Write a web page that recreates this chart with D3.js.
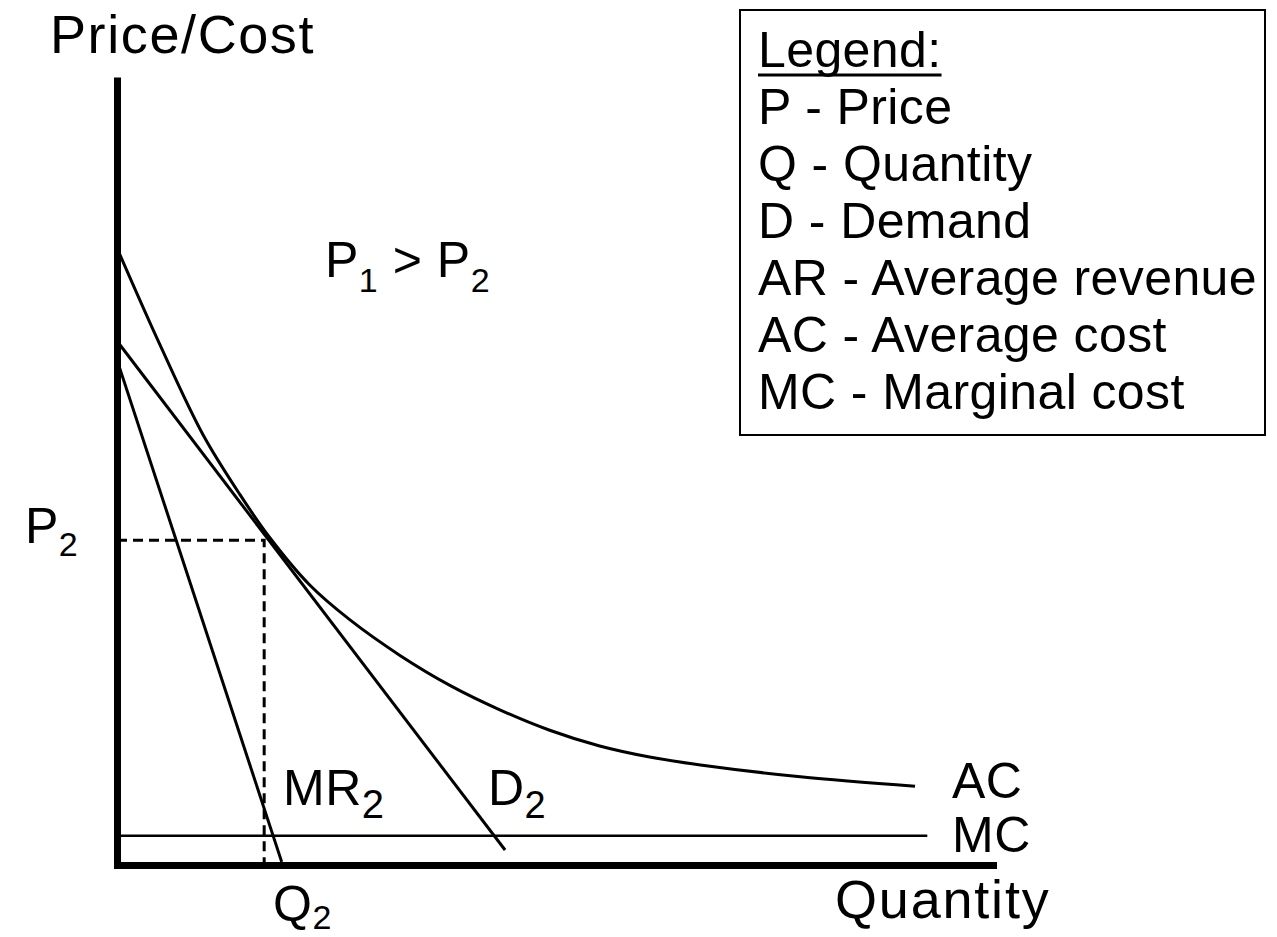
<!DOCTYPE html>
<html>
<head>
<meta charset="utf-8">
<script src="https://cdn.jsdelivr.net/npm/d3@7"></script>
<style>
  body { margin: 0; background: #fff; }
  text { font-family: "Liberation Sans", Arial, sans-serif; fill: #000; }
</style>
</head>
<body>
<svg id="chart" width="1277" height="937"></svg>
<script>
// curve data in chart units (0..100 on both axes)
const acX = [0, 4.91, 9.82, 14.04, 17.47, 22.03, 26.6, 32.3, 38.0, 43.7, 49.4, 55.1, 60.8, 66.6, 78.0, 91.1];
const acY = [78.3, 66.0, 54.6, 47.0, 41.5, 35.5, 31.1, 26.6, 22.8, 19.7, 17.1, 15.1, 13.7, 12.7, 11.2, 10.0];
const demandX = [0, 44.3];
const demandY = [66.5, 1.9];
const mrX = [0, 18.8];
const mrY = [64.1, 0.4];
const mcX = [0, 92.5];
const mcY = [3.7, 3.7];
const p2 = 41.2;
const q2 = 16.8;
const legendItems = ['P - Price', 'Q - Quantity', 'D - Demand', 'AR - Average revenue', 'AC - Average cost', 'MC - Marginal cost'];

const svg = d3.select('#chart');

const x = d3.scaleLinear().domain([0, 100]).range([117, 993]);
const y = d3.scaleLinear().domain([0, 100]).range([865, 77]);

const line = d3.line()
  .x(function(d) { return x(d[0]); })
  .y(function(d) { return y(d[1]); });

function pts(xs, ys) {
  return xs.map(function(v, i) { return [v, ys[i]]; });
}

// dashed P2 / Q2 guides
svg.append('path')
  .attr('d', line([[0, p2], [q2, p2], [q2, 0]]))
  .attr('fill', 'none')
  .attr('stroke', '#000')
  .attr('stroke-width', 3)
  .attr('stroke-dasharray', '10,6');

// MC
svg.append('path')
  .attr('d', line(pts(mcX, mcY)))
  .attr('fill', 'none')
  .attr('stroke', '#000')
  .attr('stroke-width', 2.5);

// D2 and MR2
[pts(demandX, demandY), pts(mrX, mrY)].forEach(function(p) {
  svg.append('path')
    .attr('d', line(p))
    .attr('fill', 'none')
    .attr('stroke', '#000')
    .attr('stroke-width', 3);
});

// AC
svg.append('path')
  .attr('d', d3.line()
    .x(function(d) { return x(d[0]); })
    .y(function(d) { return y(d[1]); })
    .curve(d3.curveCatmullRom)(pts(acX, acY)))
  .attr('fill', 'none')
  .attr('stroke', '#000')
  .attr('stroke-width', 3);

// axes, no ticks
const yAxis = svg.append('g')
  .attr('transform', 'translate(117,0)')
  .call(d3.axisLeft(y).tickValues([]).tickSizeOuter(0));
const xAxis = svg.append('g')
  .attr('transform', 'translate(0,865)')
  .call(d3.axisBottom(x).tickValues([]).tickSizeOuter(0));
yAxis.select('.domain').attr('stroke-width', 7);
xAxis.select('.domain').attr('stroke-width', 7).attr('stroke-linecap', 'square');

// labels with optional subscript
function label(px, py, main, sub, subSize, subDy) {
  const t = svg.append('text')
    .attr('x', px)
    .attr('y', py)
    .attr('font-size', 50)
    .attr('letter-spacing', 0.5);
  t.append('tspan').text(main);
  if (sub) {
    t.append('tspan').attr('dy', subDy || 14).attr('font-size', subSize || 34).text(sub);
  }
  return t;
}

svg.append('text').attr('x', 50).attr('y', 53).attr('font-size', 54)
  .attr('letter-spacing', 1.6).text('Price/Cost');
svg.append('text').attr('x', 835).attr('y', 918).attr('font-size', 54)
  .attr('letter-spacing', 1.8).text('Quantity');
label(25, 543, 'P', '2', 34, 13);
label(283, 805, 'MR', '2', 40, 13);
label(488, 805, 'D', '2', 38, 13);
label(273, 921, 'Q', '2', 34, 8);
label(952, 798, 'AC');
label(952, 852, 'MC');

const ineq = svg.append('text').attr('x', 325).attr('y', 277).attr('font-size', 50).attr('letter-spacing', 0.5);
ineq.append('tspan').text('P');
ineq.append('tspan').attr('dy', 15).attr('font-size', 34).text('1');
ineq.append('tspan').attr('dy', -15).text(' > P');
ineq.append('tspan').attr('dy', 15).attr('font-size', 34).text('2');

// legend box
svg.append('rect')
  .attr('x', 740)
  .attr('y', 10)
  .attr('width', 525)
  .attr('height', 425)
  .attr('fill', '#fff')
  .attr('stroke', '#000')
  .attr('stroke-width', 2);

const lg = svg.append('text').attr('x', 758).attr('y', 67).attr('font-size', 50)
  .attr('letter-spacing', 0.4).text('Legend:');
const lw = lg.node().getComputedTextLength();
svg.append('line')
  .attr('x1', 758).attr('x2', 758 + lw)
  .attr('y1', 75).attr('y2', 75)
  .attr('stroke', '#000')
  .attr('stroke-width', 3);

svg.selectAll('.legend-item')
  .data(legendItems)
  .enter().append('text')
  .attr('class', 'legend-item')
  .attr('x', 758)
  .attr('y', function(d, i) { return 124 + i * 57; })
  .attr('font-size', 50)
  .attr('letter-spacing', 0.4)
  .text(function(d) { return d; });
</script>
</body>
</html>
